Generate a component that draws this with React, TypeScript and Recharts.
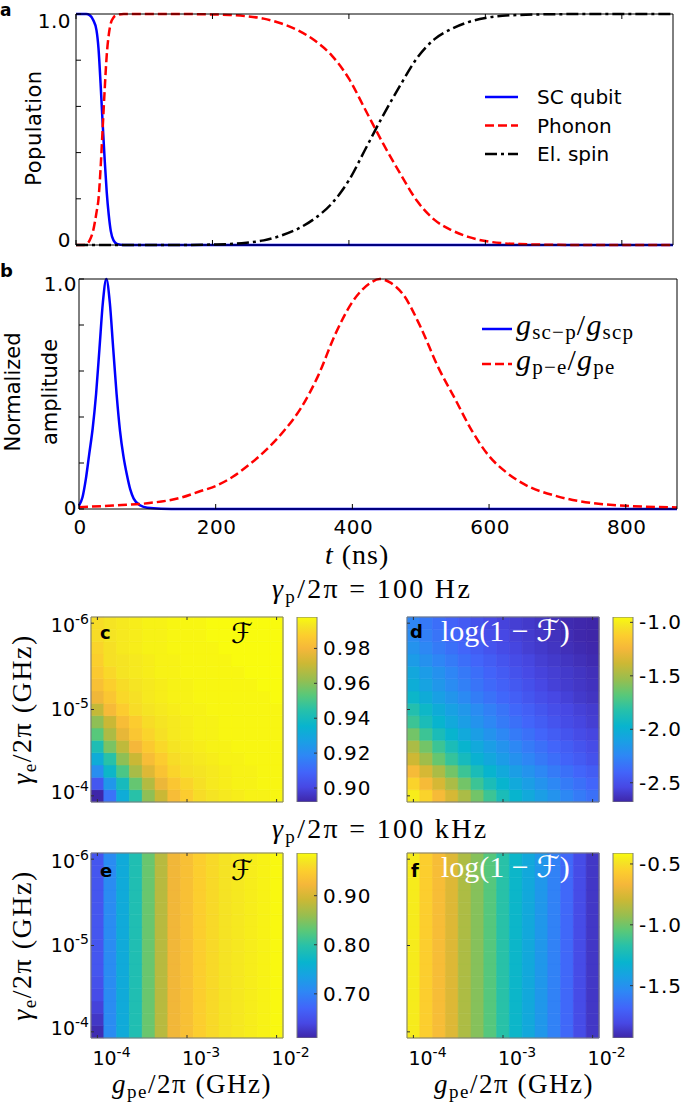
import React from 'react';
import { LineChart, Line, XAxis, YAxis, BarChart, Bar, Cell, Legend } from 'recharts';

const SANS = '"DejaVu Sans", Verdana, sans-serif';
const SERIF = '"Liberation Serif", "Times New Roman", serif';
const SCRIPT = '"DejaVu Serif", "DejaVu Sans", serif';
const FRAME = '#7a7a7a';
const TICK = '#333333';

// ---------------- Panel a : populations vs time (ns) ----------------
const timeA = [0, 10, 15, 20, 25, 30, 33, 36, 39, 42, 45, 48, 51, 55, 60, 70, 80, 100, 150, 200, 225, 250, 275, 300, 325, 350, 375, 400, 425, 450, 475, 500, 525, 550, 575, 600, 625, 650, 700, 750, 800, 875];
const popQubit = [1, 1, 1, 0.995, 0.975, 0.93, 0.85, 0.7, 0.53, 0.37, 0.23, 0.13, 0.06, 0.02, 0.005, 0, 0, 0, 0, 0, 0, 0, 0, 0, 0, 0, 0, 0, 0, 0, 0, 0, 0, 0, 0, 0, 0, 0, 0, 0, 0, 0];
const popPhonon = [0, 0, 0.003, 0.02, 0.06, 0.14, 0.2, 0.33, 0.5, 0.67, 0.82, 0.91, 0.96, 0.985, 0.995, 1, 1, 1, 1, 0.998, 0.996, 0.99, 0.98, 0.96, 0.93, 0.885, 0.82, 0.72, 0.58, 0.44, 0.31, 0.19, 0.11, 0.065, 0.035, 0.017, 0.008, 0.004, 0.001, 0, 0, 0];
const popSpin = [0, 0, 0, 0, 0, 0, 0, 0, 0, 0, 0, 0, 0, 0, 0, 0, 0, 0, 0, 0.002, 0.004, 0.01, 0.02, 0.04, 0.07, 0.115, 0.18, 0.28, 0.42, 0.56, 0.69, 0.81, 0.89, 0.935, 0.965, 0.983, 0.992, 0.996, 0.999, 1, 1, 1];

// ---------------- Panel b : normalized coupling amplitudes ----------------
const timeScp = [0, 5, 10, 15, 20, 25, 30, 35, 40, 45, 50, 55, 60, 65, 70, 75, 80, 90, 100, 120, 150, 875];
const ampScp = [0.015, 0.05, 0.13, 0.24, 0.35, 0.5, 0.7, 0.9, 1.0, 0.9, 0.7, 0.5, 0.34, 0.23, 0.15, 0.085, 0.045, 0.015, 0.005, 0.001, 0, 0];
const timePe = [0, 50, 100, 150, 175, 200, 225, 250, 275, 300, 325, 350, 375, 400, 425, 440, 455, 475, 500, 525, 550, 575, 600, 625, 650, 700, 750, 800, 875];
const ampPe = [0.008, 0.015, 0.025, 0.05, 0.075, 0.1, 0.14, 0.195, 0.26, 0.34, 0.44, 0.58, 0.76, 0.9, 0.98, 1.0, 0.985, 0.93, 0.79, 0.62, 0.48, 0.34, 0.23, 0.16, 0.11, 0.055, 0.026, 0.014, 0.007];

const timeDomain = [0, 875];
const timeTicks = [0, 200, 400, 600, 800];
const timeTickLabels = ['0', '200', '400', '600', '800'];
const unitTicks = [0, 0.2, 0.4, 0.6, 0.8, 1];
const unitTickLabels = ['0', '', '', '', '', '1.0'];

// ---------------- Heatmaps (rows: gamma_e from 1e-6 top to 1e-4 bottom; cols: g_pe 1e-4 .. 1e-2) ----------------
const fidelitySlowPhonon = [
  [0.991, 0.993, 0.994, 0.995, 0.996, 0.996, 0.997, 0.997, 0.997, 0.998, 0.998, 0.998, 0.998, 0.998, 0.998],
  [0.991, 0.993, 0.994, 0.995, 0.996, 0.996, 0.997, 0.997, 0.997, 0.998, 0.998, 0.998, 0.998, 0.998, 0.998],
  [0.989, 0.992, 0.994, 0.995, 0.996, 0.996, 0.997, 0.997, 0.997, 0.997, 0.998, 0.998, 0.998, 0.998, 0.998],
  [0.988, 0.992, 0.993, 0.994, 0.995, 0.996, 0.996, 0.997, 0.997, 0.997, 0.997, 0.998, 0.998, 0.998, 0.998],
  [0.986, 0.990, 0.993, 0.994, 0.995, 0.996, 0.996, 0.997, 0.997, 0.997, 0.997, 0.997, 0.998, 0.998, 0.998],
  [0.983, 0.988, 0.991, 0.993, 0.994, 0.995, 0.996, 0.996, 0.997, 0.997, 0.997, 0.997, 0.997, 0.998, 0.998],
  [0.979, 0.985, 0.990, 0.992, 0.994, 0.995, 0.996, 0.996, 0.997, 0.997, 0.997, 0.997, 0.997, 0.997, 0.998],
  [0.970, 0.981, 0.987, 0.991, 0.993, 0.994, 0.995, 0.996, 0.996, 0.997, 0.997, 0.997, 0.997, 0.997, 0.997],
  [0.961, 0.971, 0.982, 0.987, 0.991, 0.993, 0.994, 0.995, 0.996, 0.996, 0.997, 0.997, 0.997, 0.997, 0.997],
  [0.953, 0.966, 0.977, 0.985, 0.989, 0.992, 0.994, 0.995, 0.996, 0.996, 0.997, 0.997, 0.997, 0.997, 0.997],
  [0.942, 0.958, 0.969, 0.980, 0.986, 0.990, 0.993, 0.994, 0.995, 0.996, 0.996, 0.997, 0.997, 0.997, 0.997],
  [0.932, 0.945, 0.961, 0.971, 0.982, 0.987, 0.991, 0.993, 0.994, 0.995, 0.996, 0.996, 0.997, 0.997, 0.997],
  [0.921, 0.937, 0.951, 0.965, 0.975, 0.984, 0.989, 0.992, 0.993, 0.994, 0.995, 0.996, 0.996, 0.997, 0.997],
  [0.905, 0.924, 0.940, 0.955, 0.967, 0.978, 0.985, 0.989, 0.992, 0.994, 0.995, 0.996, 0.996, 0.997, 0.997],
  [0.892, 0.913, 0.932, 0.945, 0.961, 0.971, 0.982, 0.987, 0.991, 0.993, 0.994, 0.995, 0.996, 0.996, 0.997],
];
const logInfidSlowPhonon = [
  [-2.25, -2.31, -2.36, -2.41, -2.45, -2.49, -2.53, -2.56, -2.58, -2.60, -2.62, -2.64, -2.66, -2.67, -2.68],
  [-2.22, -2.28, -2.33, -2.39, -2.43, -2.47, -2.51, -2.54, -2.57, -2.59, -2.61, -2.63, -2.65, -2.67, -2.68],
  [-2.18, -2.24, -2.30, -2.35, -2.40, -2.44, -2.48, -2.52, -2.55, -2.58, -2.60, -2.62, -2.64, -2.66, -2.67],
  [-2.13, -2.19, -2.25, -2.30, -2.36, -2.40, -2.44, -2.48, -2.52, -2.55, -2.58, -2.60, -2.62, -2.64, -2.66],
  [-2.06, -2.13, -2.19, -2.25, -2.31, -2.36, -2.41, -2.45, -2.49, -2.53, -2.56, -2.58, -2.60, -2.62, -2.64],
  [-2.02, -2.09, -2.16, -2.22, -2.28, -2.33, -2.38, -2.42, -2.46, -2.50, -2.54, -2.57, -2.59, -2.61, -2.63],
  [-1.95, -2.03, -2.11, -2.17, -2.23, -2.29, -2.34, -2.39, -2.43, -2.47, -2.51, -2.54, -2.57, -2.60, -2.62],
  [-1.84, -1.94, -2.03, -2.10, -2.16, -2.22, -2.28, -2.33, -2.39, -2.43, -2.47, -2.51, -2.54, -2.57, -2.59],
  [-1.76, -1.88, -1.97, -2.05, -2.12, -2.18, -2.24, -2.30, -2.35, -2.40, -2.44, -2.48, -2.52, -2.55, -2.58],
  [-1.62, -1.76, -1.88, -1.97, -2.05, -2.12, -2.18, -2.24, -2.30, -2.35, -2.40, -2.44, -2.48, -2.52, -2.55],
  [-1.48, -1.62, -1.76, -1.88, -1.97, -2.05, -2.12, -2.18, -2.24, -2.30, -2.35, -2.40, -2.44, -2.48, -2.52],
  [-1.38, -1.51, -1.65, -1.78, -1.90, -1.99, -2.06, -2.13, -2.19, -2.25, -2.31, -2.36, -2.41, -2.45, -2.49],
  [-1.22, -1.35, -1.48, -1.62, -1.76, -1.88, -1.97, -2.05, -2.12, -2.18, -2.24, -2.30, -2.35, -2.40, -2.44],
  [-1.10, -1.22, -1.35, -1.48, -1.62, -1.76, -1.88, -1.97, -2.05, -2.12, -2.18, -2.24, -2.30, -2.35, -2.40],
  [-1.00, -1.10, -1.22, -1.35, -1.48, -1.62, -1.76, -1.88, -1.97, -2.05, -2.12, -2.18, -2.24, -2.30, -2.35],
];
// fast phonon decay: values vary with g_pe (columns) only
const fidelityFastPhonon = [0.655, 0.71, 0.75, 0.79, 0.836, 0.88, 0.92, 0.934, 0.95, 0.96, 0.968, 0.972, 0.976, 0.98, 0.985];
const fidelityFastFirstCol = [0.655, 0.655, 0.655, 0.655, 0.655, 0.655, 0.655, 0.655, 0.655, 0.655, 0.65, 0.645, 0.635, 0.625, 0.615];
const logInfidFastPhonon = [-0.46, -0.56, -0.64, -0.74, -0.87, -0.96, -1.06, -1.17, -1.29, -1.38, -1.47, -1.57, -1.67, -1.79, -1.87];

const rangeC: [number, number] = [0.892, 0.998];
const ticksC = [0.9, 0.92, 0.94, 0.96, 0.98];
const rangeD: [number, number] = [-2.68, -0.95];
const ticksD = [-2.5, -2.0, -1.5, -1.0];
const rangeE: [number, number] = [0.61, 0.987];
const ticksE = [0.7, 0.8, 0.9];
const rangeF: [number, number] = [-1.93, -0.41];
const ticksF = [-1.5, -1.0, -0.5];

const heatCols = [0, 1, 2, 3, 4, 5, 6, 7, 8, 9, 10, 11, 12, 13, 14];
const gpeTickIdx = [0, 7, 14];
const gpeTickExp = ['-4', '-3', '-2'];
const gammaTickPos = [0.5, 7.5, 14.5];
const gammaTickExp = ['-4', '-5', '-6'];

// parula colormap anchors
const PARULA: [number, number, number, number][] = [
  [0.0, 62, 38, 168], [0.08, 71, 72, 228], [0.16, 66, 100, 250], [0.25, 46, 135, 245],
  [0.33, 25, 160, 228], [0.41, 8, 180, 206], [0.5, 40, 193, 168], [0.58, 90, 200, 120],
  [0.66, 150, 190, 80], [0.75, 205, 184, 52], [0.83, 245, 183, 58], [0.9, 252, 205, 46],
  [0.95, 245, 227, 36], [1.0, 249, 251, 14],
];
function parula(t: number) {
  const u = Math.max(0, Math.min(1, t));
  for (let i = 1; i < PARULA.length; i++) {
    if (u <= PARULA[i][0]) {
      const a = PARULA[i - 1], b = PARULA[i];
      const f = (u - a[0]) / (b[0] - a[0]);
      const c = [1, 2, 3].map(k => Math.round(a[k] + (b[k] - a[k]) * f));
      return `rgb(${c[0]},${c[1]},${c[2]})`;
    }
  }
  return 'rgb(249,251,14)';
}

// ---------------- series configs ----------------
const seriesA = [
  { key: 'qubit', name: 'SC qubit', color: '#0000ff', dash: undefined as string | undefined },
  { key: 'phonon', name: 'Phonon', color: '#ff0000', dash: '9 4' },
  { key: 'spin', name: 'El. spin', color: '#000000', dash: '12 4 3 4' },
];

const dataA = timeA.map((t, i) => ({ t, qubit: popQubit[i], phonon: popPhonon[i], spin: popSpin[i] }));
const dataScp = timeScp.map((t, i) => ({ t, v: ampScp[i] }));
const dataPe = timePe.map((t, i) => ({ t, v: ampPe[i] }));

// ---------------- tick renderers ----------------
const lineXTick = (isTop: boolean, showLabel: boolean) => (p: any) => {
  const { x, y, payload } = p;
  const k = timeTicks.indexOf(payload.value);
  return (
    <g>
      <line x1={x} x2={x} y1={y} y2={isTop ? y + 5 : y - 5} stroke="#000" strokeWidth={1} />
      {showLabel && k >= 0 && (
        <text x={x + 1} y={y + 25} textAnchor="middle" fontFamily={SANS} fontSize={20} letterSpacing={0.5} fill="#000">{timeTickLabels[k]}</text>
      )}
    </g>
  );
};
const lineYTick = (isRight: boolean, showLabel: boolean, dxLab: number, dyTop: number, dyBottom: number) => (p: any) => {
  const { x, y, payload } = p;
  const k = unitTicks.indexOf(payload.value);
  const lab = k >= 0 ? unitTickLabels[k] : '';
  const dy = payload.value === 1 ? dyTop : payload.value === 0 ? dyBottom : 0;
  return (
    <g>
      <line x1={x} x2={isRight ? x - 5 : x + 5} y1={y} y2={y} stroke="#000" strokeWidth={1} />
      {showLabel && lab && (
        <text x={x + dxLab} y={y + dy + 7} textAnchor="end" fontFamily={SANS} fontSize={20} letterSpacing={0.5} fill="#000">{lab}</text>
      )}
    </g>
  );
};
const heatXTick = (isTop: boolean, showLabel: boolean) => (p: any) => {
  const { x, y, payload } = p;
  const k = gpeTickIdx.indexOf(payload.value);
  if (k < 0) return <g />;
  return (
    <g>
      <line x1={x} x2={x} y1={y} y2={isTop ? y + 3 : y - 3} stroke={TICK} strokeWidth={1} />
      {showLabel && (
        <text x={x - 5} y={y + 27} fontFamily={SANS} fontSize={19} fill="#000">10<tspan dy={-8} fontSize={14}>{gpeTickExp[k]}</tspan></text>
      )}
    </g>
  );
};
const heatYTick = (isRight: boolean, showLabel: boolean) => (p: any) => {
  const { x, y, payload } = p;
  const k = gammaTickPos.indexOf(payload.value);
  if (k < 0) return <g />;
  const dy = k === 2 ? 3 : k === 0 ? -3 : 0;
  return (
    <g>
      <line x1={x} x2={isRight ? x - 3 : x + 3} y1={y} y2={y} stroke={TICK} strokeWidth={1} />
      {showLabel && (
        <text x={x - 2} y={y + dy + 6} textAnchor="end" fontFamily={SANS} fontSize={19} fill="#000">10<tspan dy={-8} fontSize={14}>{gammaTickExp[k]}</tspan></text>
      )}
    </g>
  );
};
const cbTick = (digits: number) => (p: any) => {
  const { x, y, payload } = p;
  return (
    <g>
      <line x1={x} x2={x - 3} y1={y} y2={y} stroke={TICK} strokeWidth={1} />
      <text x={x + 6} y={y + 7} fontFamily={SANS} fontSize={20} letterSpacing={1} fill="#000">{payload.value.toFixed(digits)}</text>
    </g>
  );
};

// ---------------- legends ----------------
const LegendA = () => (
  <svg width={170} height={90} style={{ display: 'block', overflow: 'visible' }}>
    {seriesA.map((s, i) => (
      <g key={s.key}>
        <line x1={5} x2={38} y1={14 + i * 28.5} y2={14 + i * 28.5} stroke={s.color} strokeWidth={2.5} strokeDasharray={s.dash} />
        <text x={57} y={21 + i * 28.5} fontFamily={SANS} fontSize={20} fill="#000">{s.name}</text>
      </g>
    ))}
  </svg>
);
const legendB = [
  { key: 'scp', color: '#0000ff', dash: undefined as string | undefined, sub1: 'sc\u2212p', sub2: 'scp' },
  { key: 'pe', color: '#ff0000', dash: '9 4', sub1: 'p\u2212e', sub2: 'pe' },
];
const LegendB = () => (
  <svg width={200} height={80} style={{ display: 'block', overflow: 'visible' }}>
    {legendB.map((s, i) => (
      <g key={s.key}>
        <line x1={5} x2={35} y1={14 + i * 35} y2={14 + i * 35} stroke={s.color} strokeWidth={2.5} strokeDasharray={s.dash} />
        <text x={39} y={20 + i * 35} fontFamily={SERIF} fontSize={30} letterSpacing={1.2} fill="#000">
          <tspan fontStyle="italic">g</tspan>
          <tspan fontSize={21} dy={4}>{s.sub1}</tspan>
          <tspan dy={-4}>/</tspan>
          <tspan fontStyle="italic">g</tspan>
          <tspan fontSize={21} dy={4}>{s.sub2}</tspan>
        </text>
      </g>
    ))}
  </svg>
);

// ---------------- heatmap + colorbar ----------------
function Heatmap({ grid, range, width, height, margin, showX, showY }: any) {
  const data = heatCols.map(c => {
    const o: any = { col: c };
    grid.forEach((_: any, r: number) => { o['r' + r] = 1; });
    return o;
  });
  const rowsBottomUp = grid.map((_: any, r: number) => r).reverse();
  const [lo, hi] = range;
  return (
    <BarChart width={width} height={height} data={data} margin={margin} barCategoryGap={0} barGap={0}>
      {rowsBottomUp.map((r: number) => (
        <Bar key={r} dataKey={'r' + r} stackId="cells" isAnimationActive={false}>
          {heatCols.map(c => {
            const col = parula((grid[r][c] - lo) / (hi - lo));
            return <Cell key={c} fill={col} stroke={col} strokeWidth={0.6} />;
          })}
        </Bar>
      ))}
      <XAxis dataKey="col" interval={0} height={1} tickSize={0} tickMargin={0} tickLine={false} axisLine={{ stroke: FRAME }} tick={heatXTick(false, showX)} />
      <XAxis xAxisId="top" orientation="top" dataKey="col" interval={0} height={1} tickSize={0} tickMargin={0} tickLine={false} axisLine={{ stroke: FRAME }} tick={heatXTick(true, false)} />
      <YAxis type="number" domain={[0, grid.length]} ticks={gammaTickPos} width={1} tickSize={0} tickMargin={0} tickLine={false} axisLine={{ stroke: FRAME }} tick={heatYTick(false, showY)} />
      <YAxis yAxisId="right" orientation="right" type="number" domain={[0, grid.length]} ticks={gammaTickPos} width={1} tickSize={0} tickMargin={0} tickLine={false} axisLine={{ stroke: FRAME }} tick={heatYTick(true, false)} />
    </BarChart>
  );
}

function ColorBar({ range, ticks, digits, gradId, width, height, margin }: any) {
  const data = [{ k: 'cb', span: range }];
  return (
    <BarChart width={width} height={height} data={data} margin={margin} barCategoryGap={0}>
      <defs>
        <linearGradient id={gradId} x1="0" y1="1" x2="0" y2="0">
          {PARULA.map(([p, r, g, b]) => <stop key={p} offset={p} stopColor={`rgb(${r},${g},${b})`} />)}
        </linearGradient>
      </defs>
      <XAxis dataKey="k" hide />
      <YAxis type="number" orientation="right" domain={range} ticks={ticks} width={1} tickSize={0} tickMargin={0} tickLine={false} axisLine={false} tick={cbTick(digits)} allowDataOverflow />
      <Bar dataKey="span" fill={`url(#${gradId})`} stroke={FRAME} strokeWidth={1} isAnimationActive={false} />
    </BarChart>
  );
}

const pos = (left: number, top: number): React.CSSProperties => ({ position: 'absolute', left, top });

export default function App() {
  const gridE = fidelitySlowPhonon.map((_, r) => heatCols.map(c => (c === 0 ? fidelityFastFirstCol[r] : fidelityFastPhonon[c])));
  const gridF = fidelitySlowPhonon.map(() => heatCols.map(c => logInfidFastPhonon[c]));
  return (
    <div style={{ position: 'absolute', left: 0, top: 0, width: 685, height: 1102, background: '#fff', overflow: 'hidden' }}>
      {/* Panel a */}
      <div style={pos(0, 0)}>
        <LineChart width={685} height={260} data={dataA} margin={{ top: 13, right: 11, bottom: 14, left: 75 }}>
          <XAxis dataKey="t" type="number" domain={timeDomain} ticks={timeTicks} height={1} tickSize={0} tickMargin={0} tickLine={false} axisLine={{ stroke: '#000' }} tick={lineXTick(false, false)} />
          <XAxis xAxisId="top" orientation="top" dataKey="t" type="number" domain={timeDomain} ticks={timeTicks} height={1} tickSize={0} tickMargin={0} tickLine={false} axisLine={{ stroke: '#000' }} tick={lineXTick(true, false)} />
          <YAxis type="number" domain={[0, 1]} ticks={unitTicks} width={1} tickSize={0} tickMargin={0} tickLine={false} axisLine={{ stroke: '#000' }} tick={lineYTick(false, true, -5, 7, -5)} />
          <YAxis yAxisId="r" orientation="right" type="number" domain={[0, 1]} ticks={unitTicks} width={1} tickSize={0} tickMargin={0} tickLine={false} axisLine={{ stroke: '#000' }} tick={lineYTick(true, false, 0, 0, 0)} />
          {seriesA.map(s => (
            <Line key={s.key} dataKey={s.key} name={s.name} type="monotone" stroke={s.color} strokeWidth={2.5} strokeDasharray={s.dash} dot={false} isAnimationActive={false} />
          ))}
          <Legend layout="vertical" align="center" verticalAlign="middle" wrapperStyle={{ position: 'absolute', left: 480, top: 83, width: 170, height: 90 }} content={() => <LegendA />} />
        </LineChart>
      </div>
      {/* Panel b */}
      <div style={pos(0, 260)}>
        <LineChart width={685} height={300} margin={{ top: 18, right: 7, bottom: 50, left: 78 }}>
          <XAxis dataKey="t" type="number" domain={timeDomain} ticks={timeTicks} height={1} tickSize={0} tickMargin={0} tickLine={false} axisLine={{ stroke: '#000' }} tick={lineXTick(false, true)} />
          <XAxis xAxisId="top" orientation="top" dataKey="t" type="number" domain={timeDomain} ticks={timeTicks} height={1} tickSize={0} tickMargin={0} tickLine={false} axisLine={{ stroke: '#000' }} tick={lineXTick(true, false)} />
          <YAxis type="number" domain={[0, 1]} ticks={unitTicks} width={1} tickSize={0} tickMargin={0} tickLine={false} axisLine={{ stroke: '#000' }} tick={lineYTick(false, true, -2, 5, -1)} />
          <YAxis yAxisId="r" orientation="right" type="number" domain={[0, 1]} ticks={unitTicks} width={1} tickSize={0} tickMargin={0} tickLine={false} axisLine={{ stroke: '#000' }} tick={lineYTick(true, false, 0, 0, 0)} />
          <Line data={dataScp} dataKey="v" name="g_sc-p/g_scp" type="monotone" stroke="#0000ff" strokeWidth={2.5} dot={false} isAnimationActive={false} />
          <Line data={dataPe} dataKey="v" name="g_p-e/g_pe" type="monotone" stroke="#ff0000" strokeWidth={2.5} strokeDasharray="9 4" dot={false} isAnimationActive={false} />
          <Legend layout="vertical" align="center" verticalAlign="middle" wrapperStyle={{ position: 'absolute', left: 477, top: 55, width: 200, height: 80 }} content={() => <LegendB />} />
        </LineChart>
      </div>
      {/* Heatmaps */}
      <div style={pos(0, 600)}>
        <Heatmap grid={fidelitySlowPhonon} range={rangeC} width={330} height={230} margin={{ top: 16, right: 46, bottom: 27, left: 90 }} showX={false} showY={true} />
      </div>
      <div style={pos(290, 600)}>
        <ColorBar range={rangeC} ticks={ticksC} digits={2} gradId="gradC" width={100} height={230} margin={{ top: 17, right: 72, bottom: 28, left: 7 }} />
      </div>
      <div style={pos(320, 600)}>
        <Heatmap grid={logInfidSlowPhonon} range={rangeD} width={330} height={230} margin={{ top: 16, right: 50, bottom: 27, left: 86 }} showX={false} showY={false} />
      </div>
      <div style={pos(606, 600)}>
        <ColorBar range={rangeD} ticks={ticksD} digits={1} gradId="gradD" width={79} height={230} margin={{ top: 17, right: 51, bottom: 28, left: 7 }} />
      </div>
      <div style={pos(0, 836)}>
        <Heatmap grid={gridE} range={rangeE} width={330} height={266} margin={{ top: 16, right: 46, bottom: 63, left: 90 }} showX={true} showY={true} />
      </div>
      <div style={pos(290, 836)}>
        <ColorBar range={rangeE} ticks={ticksE} digits={2} gradId="gradE" width={100} height={266} margin={{ top: 17, right: 72, bottom: 64, left: 7 }} />
      </div>
      <div style={pos(320, 836)}>
        <Heatmap grid={gridF} range={rangeF} width={330} height={266} margin={{ top: 16, right: 50, bottom: 63, left: 86 }} showX={true} showY={false} />
      </div>
      <div style={pos(606, 836)}>
        <ColorBar range={rangeF} ticks={ticksF} digits={1} gradId="gradF" width={79} height={266} margin={{ top: 17, right: 51, bottom: 64, left: 7 }} />
      </div>
      {/* Text overlay */}
      <svg width={685} height={1102} style={{ position: 'absolute', left: 0, top: 0, pointerEvents: 'none' }}>
        <text x={0} y={16} fontFamily={SANS} fontWeight="bold" fontSize={17}>a</text>
        <text x={0} y={277} fontFamily={SANS} fontWeight="bold" fontSize={18}>b</text>
        <text transform="translate(34,128) rotate(-90)" textAnchor="middle" dominantBaseline="central" fontFamily={SANS} fontSize={21} letterSpacing={0.5}>Population</text>
        <text transform="translate(13,392) rotate(-90)" textAnchor="middle" dominantBaseline="central" fontFamily={SANS} fontSize={21}>Normalized</text>
        <text transform="translate(50,392) rotate(-90)" textAnchor="middle" dominantBaseline="central" fontFamily={SANS} fontSize={21}>amplitude</text>
        <text x={325} y={564} fontFamily={SERIF} fontSize={28} letterSpacing={1}><tspan fontStyle="italic">t</tspan> (ns)</text>
        <text x={272} y={598} fontFamily={SERIF} fontSize={28} letterSpacing={2.3}><tspan fontStyle="italic">γ</tspan><tspan fontSize={19} dy={5}>p</tspan><tspan dy={-5}>/2π = 100 Hz</tspan></text>
        <text x={272} y={838} fontFamily={SERIF} fontSize={28} letterSpacing={2.3}><tspan fontStyle="italic">γ</tspan><tspan fontSize={19} dy={5}>p</tspan><tspan dy={-5}>/2π = 100 kHz</tspan></text>
        <text transform="translate(31,709.5) rotate(-90)" textAnchor="middle" fontFamily={SERIF} fontSize={28} letterSpacing={1.5}><tspan fontStyle="italic">γ</tspan><tspan fontSize={19} dy={5}>e</tspan><tspan dy={-5}>/2π (GHz)</tspan></text>
        <text transform="translate(31,945.5) rotate(-90)" textAnchor="middle" fontFamily={SERIF} fontSize={28} letterSpacing={1.5}><tspan fontStyle="italic">γ</tspan><tspan fontSize={19} dy={5}>e</tspan><tspan dy={-5}>/2π (GHz)</tspan></text>
        <text x={192} y={1093} textAnchor="middle" fontFamily={SERIF} fontSize={27} letterSpacing={1.5}><tspan fontStyle="italic">g</tspan><tspan fontSize={19} dy={5}>pe</tspan><tspan dy={-5}>/2π (GHz)</tspan></text>
        <text x={514} y={1093} textAnchor="middle" fontFamily={SERIF} fontSize={27} letterSpacing={1.5}><tspan fontStyle="italic">g</tspan><tspan fontSize={19} dy={5}>pe</tspan><tspan dy={-5}>/2π (GHz)</tspan></text>
        <text x={100} y={639} fontFamily={SANS} fontWeight="bold" fontSize={18}>c</text>
        <text x={231} y={643} fontFamily={SCRIPT} fontStyle="italic" fontSize={28}>ℱ</text>
        <text x={410} y={638} fontFamily={SANS} fontWeight="bold" fontSize={18}>d</text>
        <text x={441} y={641} fontFamily={SERIF} fontSize={30} fill="#fff">log(1 − <tspan fontFamily={SCRIPT} fontStyle="italic">ℱ</tspan>)</text>
        <text x={100} y={877} fontFamily={SANS} fontWeight="bold" fontSize={18}>e</text>
        <text x={231} y={880} fontFamily={SCRIPT} fontStyle="italic" fontSize={28}>ℱ</text>
        <text x={411} y={877} fontFamily={SANS} fontWeight="bold" fontSize={18}>f</text>
        <text x={441} y={877} fontFamily={SERIF} fontSize={30} fill="#fff">log(1 − <tspan fontFamily={SCRIPT} fontStyle="italic">ℱ</tspan>)</text>
      </svg>
    </div>
  );
}
